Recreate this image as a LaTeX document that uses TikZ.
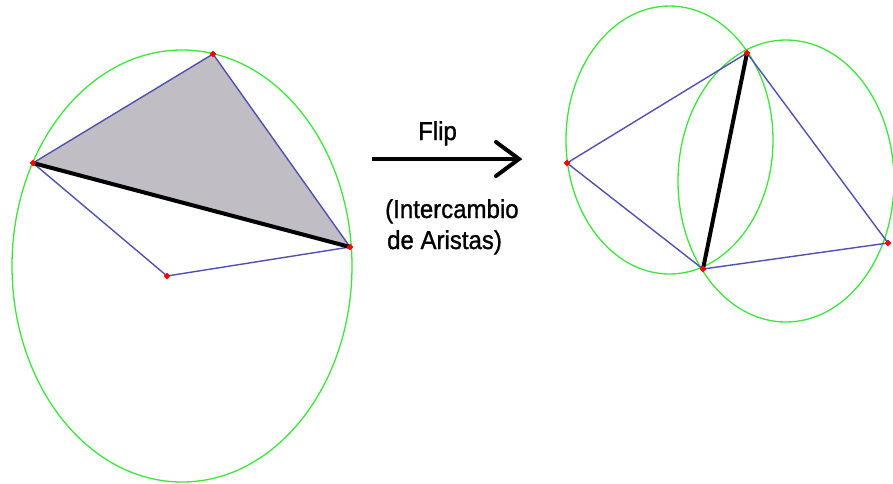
\documentclass[tikz,border=0pt]{standalone}
\usepackage{fontspec}
\setmainfont{Liberation Sans}
\newfontfamily\lblfont[FakeBold=1.2]{Liberation Sans}
\usetikzlibrary{shapes.geometric}
\definecolor{edgeblue}{RGB}{80,80,175}
\definecolor{circgreen}{RGB}{60,230,60}
\definecolor{trigray}{RGB}{192,190,196}
\tikzset{
  pt/.style={diamond,fill=red,inner sep=0pt,minimum size=7pt},
  edge/.style={draw=edgeblue,line width=1.4pt},
  diag/.style={draw=black,line width=4pt},
  circ/.style={draw=circgreen,line width=1.3pt},
  lbl/.style={font=\lblfont\fontsize{24pt}{28pt}\selectfont,inner sep=0pt,yscale=1.08}
}
\begin{document}
\begin{tikzpicture}[x=1pt,y=-1pt]
\useasboundingbox (0,0) rectangle (893,483);
% left configuration
\coordinate (A) at (33,163);
\coordinate (B) at (213,54);
\coordinate (C) at (350,247);
\coordinate (D) at (167,276);
\fill[trigray] (A) -- (B) -- (C) -- cycle;
\draw[circ] (182,266) ellipse [x radius=170, y radius=216];
\draw[edge] (A) -- (B) -- (C);
\draw[edge] (A) -- (D) -- (C);
\draw[diag] (A) -- (C);
\foreach \p in {A,B,C,D} \node[pt] at (\p) {};
% arrow and labels
\coordinate (s) at (372,159);
\coordinate (t) at (519,159);
\draw[line width=4pt] (s) -- (t);
\draw[line width=4pt,line cap=round,line join=miter] (496,142) -- (t) -- (496,176);
\node[lbl,anchor=base] (flip) at (437.5,140) {Flip};
\node[lbl,anchor=base west] (l1) at (385,218) {(Intercambio};
\node[lbl,anchor=base west] (l2) at (387,249) {de Aristas)};
% right configuration
\coordinate (P) at (567,163);
\coordinate (Q) at (747,53);
\coordinate (R) at (888,243);
\coordinate (S) at (703,269);
\draw[circ] (669.5,140) ellipse [x radius=103.5, y radius=134];
\draw[circ] (786,181) ellipse [x radius=108, y radius=141];
\draw[edge] (P) -- (Q) -- (R) -- (S) -- cycle;
\draw[diag] (Q) -- (S);
\foreach \p in {P,Q,R,S} \node[pt] at (\p) {};
\end{tikzpicture}
\end{document}
